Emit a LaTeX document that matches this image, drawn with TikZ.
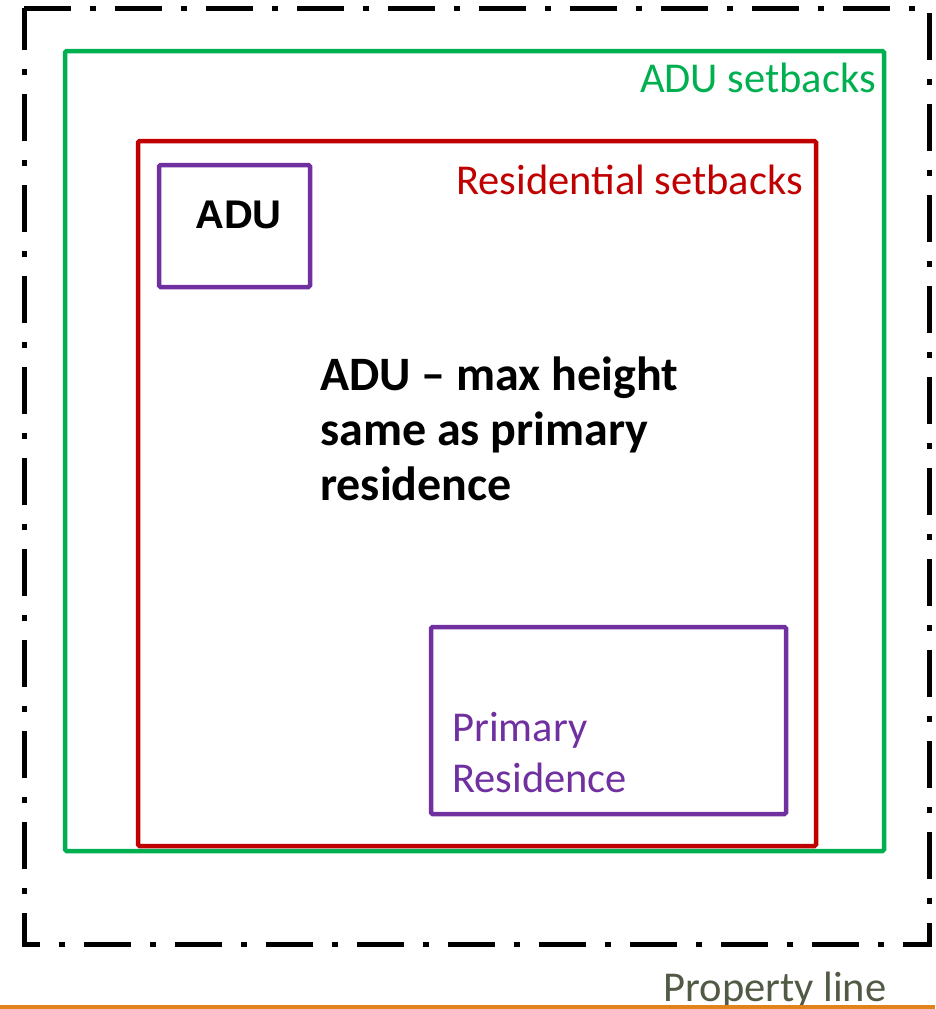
\documentclass[tikz,border=0pt]{standalone}
\usepackage{fontspec}
\setmainfont{Carlito}
\newfontfamily\arialbold{Liberation Sans}[Scale=1.0]
\usepackage{xcolor}
\definecolor{adugreen}{HTML}{00B050}
\definecolor{resred}{HTML}{C00000}
\definecolor{houseviolet}{HTML}{7030A0}
\definecolor{lineorange}{HTML}{E2821A}
\definecolor{propgray}{HTML}{505A45}

\begin{document}
\begin{tikzpicture}[x=1pt, y=-1pt,
    every node/.style={inner sep=0pt, font=\fontsize{42.5}{51}\selectfont},
    propline/.style={line width=5pt, dash pattern=on 47pt off 19pt on 6pt off 19pt},
    setback/.style={line width=4.5pt, rounded corners=1.5pt}]
          \useasboundingbox (0,0) rectangle (935,1009);
          % Boundaries
          \draw[propline] (24,8) -- (929,8) -- (929,944) -- (24,944) -- cycle;
          \draw[setback, adugreen] (65,51) rectangle (884,851);
          \draw[setback, resred] (138,141) rectangle (816,846);
          \draw[setback, houseviolet] (159,165) rectangle (310,287);
          \draw[setback, houseviolet] (431,627) rectangle (786,814);

          % Labels
          \node[anchor=base east, text=adugreen] (G) at (876,92) {ADU setbacks};
          \node[anchor=base east, text=resred] (R) at (803,194) {Residential setbacks};
          \node[anchor=base west, font=\fontsize{40}{48}\arialbold\bfseries] (A) at (195,228) {ADU};
          \node[anchor=north west, align=left, font=\fontsize{48}{55}\selectfont\bfseries] (M) at (320,357)
              {ADU -- max height\\same as primary\\residence};
          \node[anchor=north west, align=left, text=houseviolet] (P) at (452,712)
              {Primary\\Residence};
          \node[anchor=base, text=propgray] (L) at (775,1001) {Property line};

          % Bottom line
          \draw[lineorange, line width=3.5pt] (0,1007) -- (935,1007);
      \end{tikzpicture}
\end{document}
